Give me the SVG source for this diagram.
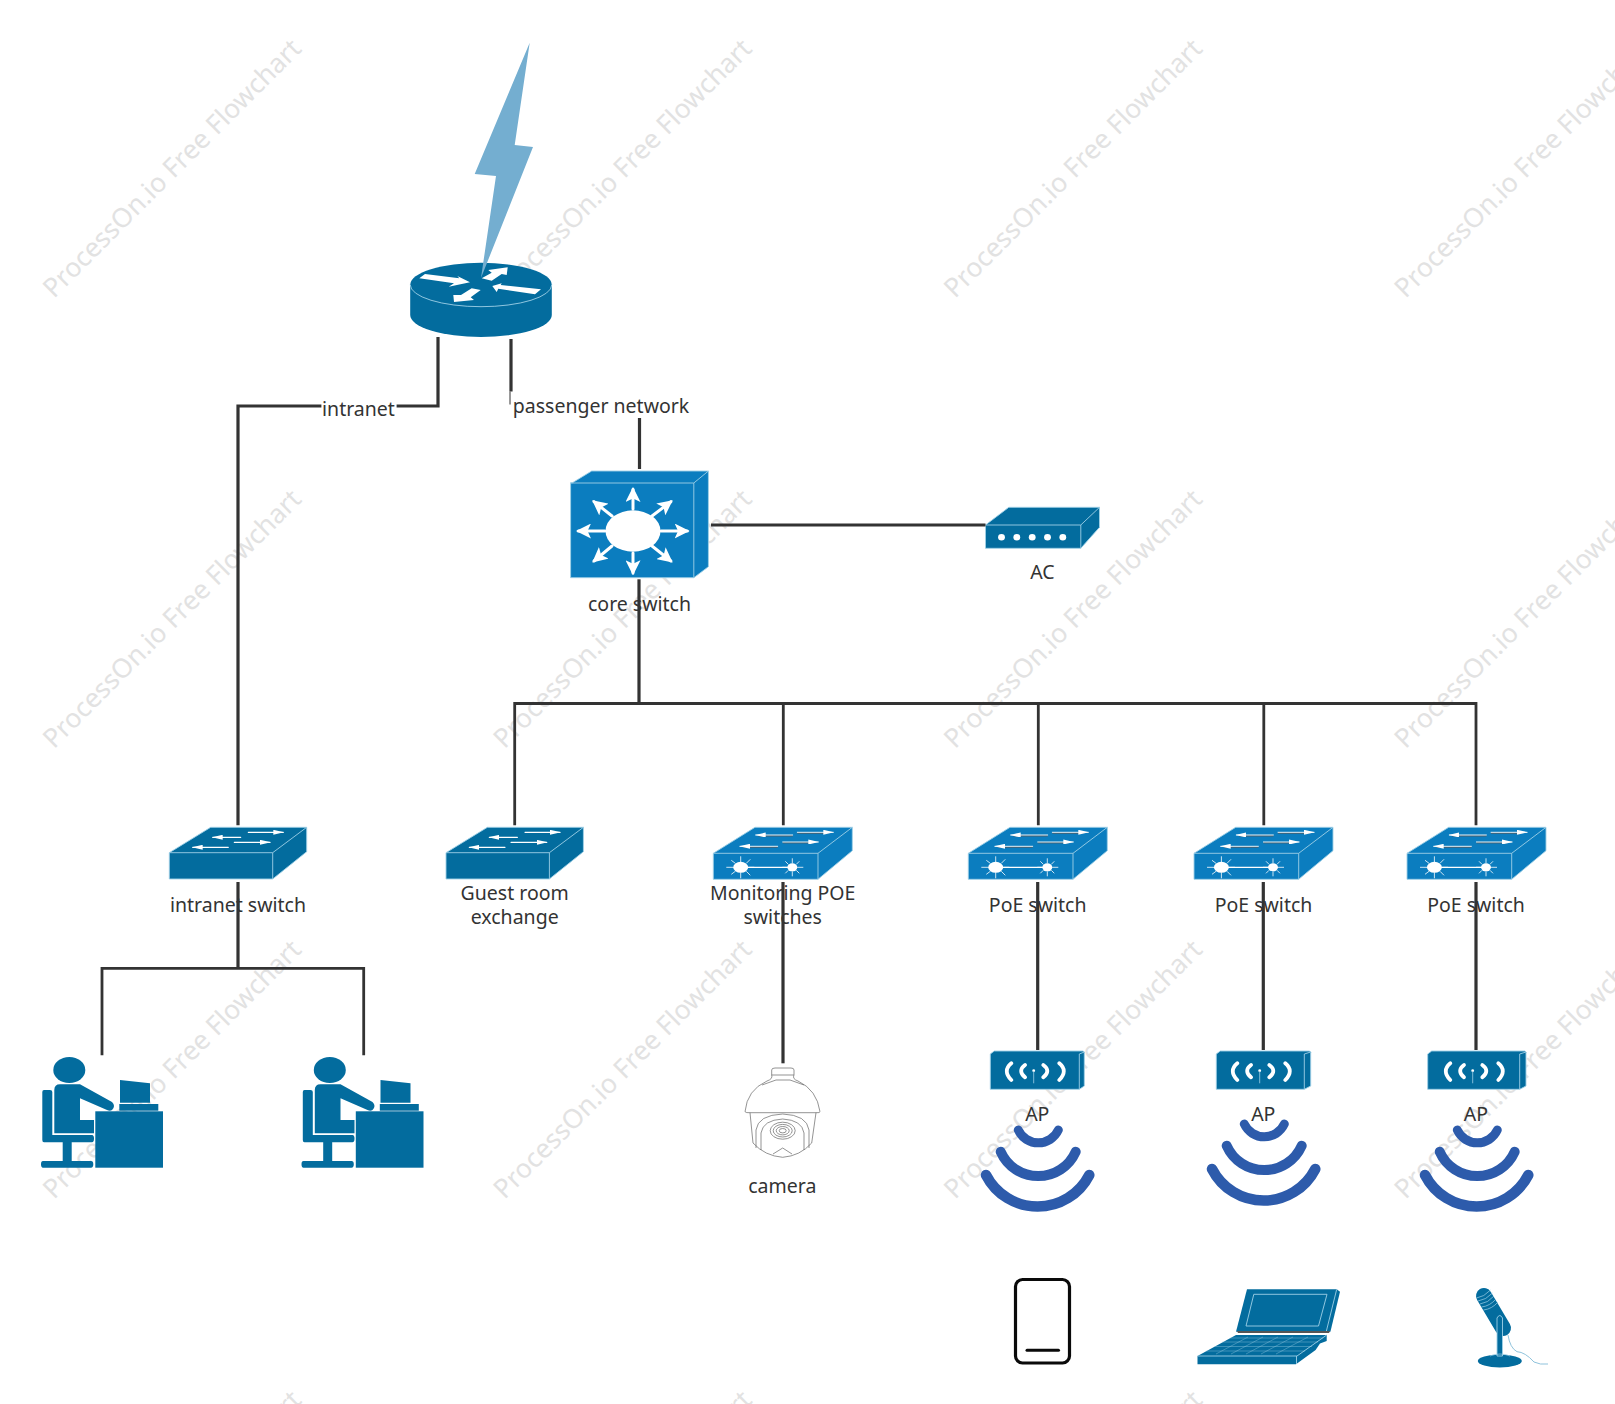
<svg xmlns="http://www.w3.org/2000/svg" xmlns:xlink="http://www.w3.org/1999/xlink" width="1615" height="1404" viewBox="0 0 1615 1404">
<style>
text{font-family:"Noto Sans","Open Sans","Liberation Sans",sans-serif}
.wm{fill:#e2e2e2;font-size:26.5px}
.lb{fill:#333;font-size:19.5px;text-anchor:middle}
.dk{fill:#036c9e}
.bl{fill:#0b7dbf}
.edge{stroke:#9fd0e6;stroke-width:.9;stroke-linejoin:round}
.cn{fill:none;stroke:#333;stroke-width:3.2}
.cn2{fill:none;stroke:#333;stroke-width:2.8}
.wl{fill:none;stroke:#fff;stroke-linecap:round}
.arc{fill:none;stroke:#2d5bab;stroke-linecap:round}
.cam{fill:none;stroke:#666;stroke-width:.7}
.lt{fill:none;stroke:#9fd0e6;stroke-width:.7}
</style>
<defs>
<marker id="wa" markerUnits="userSpaceOnUse" markerWidth="15" markerHeight="15" viewBox="0 0 13 13" refX="11" refY="6.5" orient="auto"><path d="M0 0L13 6.5L0 13L3 6.5Z" fill="#fff"/></marker>
<marker id="wt" markerUnits="userSpaceOnUse" markerWidth="11" markerHeight="5" viewBox="0 0 11 5" refX="10" refY="2.5" orient="auto"><path d="M0 0L11 2.5L0 5Z" fill="#fff"/></marker>
<g id="sw-dark">
<path class="dk edge" d="M41.4 0H137.4V24.4L103.4 51.7H0V25.4Z"/>
<path class="edge" fill="none" d="M0 25.4H103.4V51.7M103.4 25.4L137.4 0"/>
<g class="wl" stroke-width="1.2">
<path marker-end="url(#wt)" d="M71.4 10H43.4"/>
<path marker-end="url(#wt)" d="M79 5H114"/>
<path marker-end="url(#wt)" d="M59 20H23.4"/>
<path marker-end="url(#wt)" d="M65 15H100.7"/>
</g>
</g>
<g id="sw-blue">
<path class="bl edge" d="M41.7 0H139V23.4L104.7 52H0V26Z"/>
<path class="edge" fill="none" d="M0 26H104.7V52M104.7 26L139 0"/>
<g fill="none" stroke="#4d5f6b" stroke-width="1.2">
<path d="M79.4 8.5H45"/><path d="M84 5.8H115"/><path d="M64.4 19.8H30"/><path d="M69.4 15.5H100"/>
</g>
<g class="wl" stroke-width=".9">
<path marker-end="url(#wt)" d="M79.4 7.7H42.4"/>
<path marker-end="url(#wt)" d="M84 5H120"/>
<path marker-end="url(#wt)" d="M64.4 19H26.7"/>
<path marker-end="url(#wt)" d="M69.4 14.7H105"/>
</g>
<path d="M27.4 40H79" stroke="#fff" stroke-width="1.3"/>
<ellipse cx="27.4" cy="40" rx="7.5" ry="5.5" fill="#fff"/>
<ellipse cx="79" cy="40" rx="5" ry="4" fill="#fff"/>
<path stroke="#fff" stroke-width=".8" d="M13 40H20M35 40H41M27.4 29V35M27.4 45V51M18 33L22 36M33 44L37 48M18 47L22 44M33 36L37 32M69 40H74M84 40H90M79 31V36M79 44V49M72 34L75 37M83 43L86 46M72 46L75 43M83 37L86 34"/>
</g>
<g id="ap-marks">
<path class="wl" stroke-width="3.8" d="M21 12.300Q12 19.700 21 29M34.700 14Q27 19.700 34.700 26.300M53 14Q61 19.700 53 26.300M69 12.300Q78 19.700 69 29"/>
<circle cx="43.400" cy="19.700" r="1.400" fill="#fff"/>
<path d="M43.400 20V32.300" stroke="#9fd0e6" stroke-width=".8"/>
</g>
<g id="wifi">
<path class="arc" stroke-width="9" d="M1018.300 1130A22 22 0 0 0 1058.300 1130"/>
<path class="arc" stroke-width="10" d="M1000.700 1151.700A41 41 0 0 0 1075.700 1151.700"/>
<path class="arc" stroke-width="10.500" d="M986 1175A58 58 0 0 0 1089.300 1175"/>
</g>
<g id="person">
<ellipse class="dk" cx="69.300" cy="1070" rx="16" ry="13"/>
<path class="dk" d="M54.300 1090Q54.300 1084.300 60 1084.300H80L112 1102Q116 1106 112 1110Q110 1111.500 107 1110L80 1098.300V1120H94V1133.300H54.300Z"/>
<path class="dk" d="M42.300 1092Q42.300 1090 44 1090H50Q52.300 1090 52.300 1092V1135H92Q94 1135 94 1138.500Q94 1142.300 92 1142.300H71.700V1161H91Q93.300 1161 93.300 1164.300Q93.300 1167.700 91 1167.700H43Q41 1167.700 41 1164.300Q41 1161 43 1161H62.700V1142.300H44Q42.300 1142.300 42.300 1140Z"/>
<rect class="dk" x="95.300" y="1111.300" width="67.700" height="56.400"/>
<rect class="dk" x="119.300" y="1104" width="39" height="6.700"/>
<path class="dk" d="M120 1080L150 1083.300V1102.700H120Z"/>
</g>
</defs>

<g id="watermark" class="wm">
<text transform="translate(54 299) rotate(-45)">ProcessOn.io Free Flowchart</text>
<text transform="translate(504.600 299) rotate(-45)">ProcessOn.io Free Flowchart</text>
<text transform="translate(955 299) rotate(-45)">ProcessOn.io Free Flowchart</text>
<text transform="translate(1405.500 299) rotate(-45)">ProcessOn.io Free Flowchart</text>
<text transform="translate(54 749.600) rotate(-45)">ProcessOn.io Free Flowchart</text>
<text transform="translate(504.600 749.600) rotate(-45)">ProcessOn.io Free Flowchart</text>
<text transform="translate(955 749.600) rotate(-45)">ProcessOn.io Free Flowchart</text>
<text transform="translate(1405.500 749.600) rotate(-45)">ProcessOn.io Free Flowchart</text>
<text transform="translate(54 1200) rotate(-45)">ProcessOn.io Free Flowchart</text>
<text transform="translate(504.600 1200) rotate(-45)">ProcessOn.io Free Flowchart</text>
<text transform="translate(955 1200) rotate(-45)">ProcessOn.io Free Flowchart</text>
<text transform="translate(1405.500 1200) rotate(-45)">ProcessOn.io Free Flowchart</text>
<text transform="translate(54 1650.600) rotate(-45)">ProcessOn.io Free Flowchart</text>
<text transform="translate(504.600 1650.600) rotate(-45)">ProcessOn.io Free Flowchart</text>
<text transform="translate(955 1650.600) rotate(-45)">ProcessOn.io Free Flowchart</text>
</g>

<g id="router">
<path class="dk" d="M410.200 284.700V315A70.800 22 0 0 0 551.800 315V284.700A70.800 22 0 0 0 410.200 284.700Z"/>
<path class="edge" fill="none" d="M410.200 284.700A70.800 22 0 0 0 551.800 284.700"/>
<g fill="#fff">
<path d="M419.300 278.300L425 274L459.300 278.300L457.300 276L470 282.300L448.700 286.700L454 283.300Z"/>
<path d="M481.700 278.300L491.700 272.700L488.300 270L507.700 267.300L506.700 275L501.700 274L491.700 280.700Z"/>
<path d="M492.300 286L501.700 283.300L500.700 285L541 289.300L535 294.300L498.300 288.700L496.700 292Z"/>
<path d="M453.300 295L454 302L474 300L470.700 297.300L480.700 290L471.700 288.300L461 295Z"/>
</g>
</g>
<g id="lightning"><path fill="#74aed0" d="M529.700 42.700L514.700 145L533 147L481 278L496 176L474.700 174Z"/></g>

<g id="core-switch">
<path class="bl edge" d="M572.500 482.700L591.700 471H708.400V566.700L693.800 577.700H570.600V482.700Z"/>
<path class="edge" fill="none" d="M570.600 483H693.800V577.700M693.800 483L708.400 471"/>
<ellipse cx="633" cy="531" rx="27.500" ry="20.700" fill="#fff"/>
<g class="wl" stroke-width="3">
<path marker-end="url(#wa)" d="M633 509V489.300"/>
<path marker-end="url(#wa)" d="M633 553V573"/>
<path marker-end="url(#wa)" d="M605 531H578.300"/>
<path marker-end="url(#wa)" d="M661 531H687.300"/>
<path marker-end="url(#wa)" d="M612 516L594 501.700"/>
<path marker-end="url(#wa)" d="M652 516L670.900 501.700"/>
<path marker-end="url(#wa)" d="M612 546L594 561"/>
<path marker-end="url(#wa)" d="M652 546L670.900 561"/>
</g>
<text class="lb" x="639.500" y="610.700">core switch</text>
</g>

<g id="ac">
<path class="dk edge" d="M985.500 525L1008.800 507.300H1099.500V527.300L1080.800 548.300H985.500Z"/>
<path class="edge" fill="none" d="M985.500 525H1080.800V548.300M1080.800 525L1099.500 507.300"/>
<g fill="#fff"><ellipse cx="1001.500" cy="537.300" rx="3.400" ry="3.200"/><ellipse cx="1016.800" cy="537.300" rx="3.400" ry="3.200"/><ellipse cx="1032.200" cy="537.300" rx="3.400" ry="3.200"/><ellipse cx="1047.500" cy="537.300" rx="3.400" ry="3.200"/><ellipse cx="1062.800" cy="537.300" rx="3.400" ry="3.200"/></g>
<text class="lb" x="1042.500" y="579.300">AC</text>
</g>

<g id="intranet-switch"><use href="#sw-dark" transform="translate(169.300 827.300)"/><text class="lb" x="238" y="911.700">intranet switch</text></g>
<g id="guest-switch"><use href="#sw-dark" transform="translate(446 827.300)"/><text class="lb" x="514.700" y="899.500">Guest room</text><text class="lb" x="514.700" y="923.500">exchange</text></g>
<g id="monitor-switch"><use href="#sw-blue" transform="translate(713.300 827.300)"/><text class="lb" x="782.700" y="899.500">Monitoring POE</text><text class="lb" x="782.700" y="923.500">switches</text></g>
<g id="poe-1"><use href="#sw-blue" transform="translate(968.300 827.300)"/><text class="lb" x="1037.700" y="911.700">PoE switch</text></g>
<g id="poe-2"><use href="#sw-blue" transform="translate(1194 827.300)"/><text class="lb" x="1263.500" y="911.700">PoE switch</text></g>
<g id="poe-3"><use href="#sw-blue" transform="translate(1407 827.300)"/><text class="lb" x="1476" y="911.700">PoE switch</text></g>

<g id="pc-1"><use href="#person"/></g>
<g id="pc-2"><use href="#person" transform="translate(260.500 0)"/></g>

<g id="camera">
<path class="cam" d="M771.700 1075V1070Q771.700 1068 775 1068H791Q794 1068 794 1070V1075"/>
<path class="cam" d="M771.700 1075Q773 1079 767 1081Q747 1090 745 1111.700Q746 1113 750 1112.700H816Q820 1113 820 1111.700Q817 1090 798 1081Q792 1079 794 1075Z"/>
<path class="cam" d="M750 1112.700L753 1143Q765 1156 782.700 1157.300Q800 1156 811.700 1143L816 1112.700"/>
<path class="cam" d="M756 1148V1130Q758 1115 782.700 1114Q807 1115 809 1130V1148"/>
<path class="cam" d="M761 1150V1133Q763 1120 782.700 1119Q802 1120 804 1133V1150"/>
<ellipse class="cam" cx="782.700" cy="1130.700" rx="12.500" ry="8.500"/>
<ellipse class="cam" cx="782.700" cy="1130.700" rx="9.500" ry="6.300"/>
<ellipse class="cam" cx="782.700" cy="1130.700" rx="6.500" ry="4.200"/>
<ellipse class="cam" cx="782.700" cy="1130.700" rx="3.500" ry="2.200"/>
<path class="cam" d="M762 1085L776 1080H790L804 1085M773 1154L782.700 1148L792 1154"/>
<text class="lb" x="782.300" y="1192.700">camera</text>
</g>

<g id="ap-1">
<path class="dk edge" d="M990.300 1054L994.300 1051H1083.300L1084.300 1052.300V1086L1079.300 1089.300H990.300Z"/>
<path class="edge" fill="none" d="M1079.300 1054V1089.300M1079.300 1054L1084.300 1052"/>
<use href="#ap-marks" transform="translate(990.300 1051)"/>
<text class="lb" x="1037.300" y="1121">AP</text>
<use href="#wifi"/>
</g>
<g id="ap-2">
<path class="dk edge" d="M1216.300 1054L1220.300 1051H1309.700L1310.700 1052.300V1086L1304.300 1089.300H1216.300Z"/>
<path class="edge" fill="none" d="M1304.300 1054V1089.300M1304.300 1054L1310.700 1052"/>
<use href="#ap-marks" transform="translate(1216.300 1051)"/>
<text class="lb" x="1263.300" y="1121">AP</text>
<use href="#wifi" transform="translate(226 -6)"/>
</g>
<g id="ap-3">
<path class="dk edge" d="M1427.700 1054L1431.700 1051H1525L1526 1052.300V1086L1519.700 1089.300H1427.700Z"/>
<path class="edge" fill="none" d="M1519.700 1054V1089.300M1519.700 1054L1526 1052"/>
<use href="#ap-marks" transform="translate(1429.300 1051)"/>
<text class="lb" x="1476" y="1121">AP</text>
<use href="#wifi" transform="translate(439 0)"/>
</g>

<g id="phone">
<rect x="1015.500" y="1279.500" width="54" height="83.500" rx="7" fill="none" stroke="#0a0a0a" stroke-width="3.200"/>
<path d="M1027 1350.300H1058.500" stroke="#0a0a0a" stroke-width="3" stroke-linecap="round"/>
</g>

<g id="laptop">
<path class="dk" d="M1247 1289.300H1336.700L1340 1291.700L1330.400 1331.700H1236Z"/>
<path class="edge" fill="none" d="M1253.800 1294.300H1327L1318.500 1326H1246ZM1336.700 1289.300L1326.400 1331"/>
<path fill="#555" d="M1237 1331H1330L1329 1333H1238Z"/>
<path class="dk" d="M1236 1335H1326.700V1341L1320 1343.500L1315.600 1350L1296 1364.300H1197.500V1356Z"/>
<path class="edge" fill="none" d="M1197.500 1356H1297L1326.700 1335M1296.500 1356V1364"/>
<path class="lt" opacity=".55" d="M1230 1338H1323M1222 1342H1318M1214 1346.500H1312M1206 1351H1305M1248 1337L1216 1354M1263 1337L1231 1354M1278 1337L1246 1354M1293 1337L1261 1354M1308 1337L1276 1354"/>
</g>

<g id="microphone">
<path d="M1484 1296L1503 1328" stroke="#036c9e" stroke-width="16" stroke-linecap="round" fill="none"/>
<path class="lt" d="M1476.500 1298Q1484 1297 1490.500 1290M1478 1301Q1486 1300 1492.500 1293M1480 1304Q1488 1303 1494 1296M1481.500 1307Q1490 1306 1496 1299M1483.500 1310Q1492 1309 1498 1302"/>
<ellipse class="dk" cx="1499.800" cy="1361" rx="22" ry="6.500"/>
<path class="dk edge" d="M1497 1318Q1499.800 1313 1502.500 1318V1356H1497Z"/>
<path class="lt" d="M1490 1356Q1500 1352 1510 1356"/>
<path d="M1508 1335Q1510 1348 1517 1351.700Q1525 1352 1534 1362Q1540 1365 1548 1364" fill="none" stroke="#8fc3dc" stroke-width="1"/>
</g>

<g id="connectors">
<path class="cn" d="M438 337V406H396.600"/>
<path class="cn" d="M321.400 406H238V825.300"/>
<path class="cn" d="M511 339V391.500"/>
<path d="M510 391.500V404.500" stroke="#333" stroke-width="1"/>
<path class="cn" d="M639.500 418V469"/>
<path class="cn" d="M711 525H985.500"/>
<path class="cn" d="M639 579.300V703.500" stroke-width="3.500"/>
<path class="cn2" d="M514.700 825.300V703.500H1476V825.300"/>
<path class="cn2" d="M783.300 703.500V825.300M1038.300 703.500V825.300M1263.800 703.500V825.300"/>
<path class="cn" d="M238 882V968.300"/>
<path class="cn2" d="M102 1055.300V968.300H363.700V1055.300"/>
<path class="cn" d="M783 882V1063.300"/>
<path class="cn" d="M1037.700 882V1050M1263.300 882V1050M1476 882V1050"/>
</g>
<g id="edge-labels">
<text class="lb" x="358.500" y="416">intranet</text>
<text class="lb" x="601" y="412.700">passenger network</text>
</g>
</svg>
